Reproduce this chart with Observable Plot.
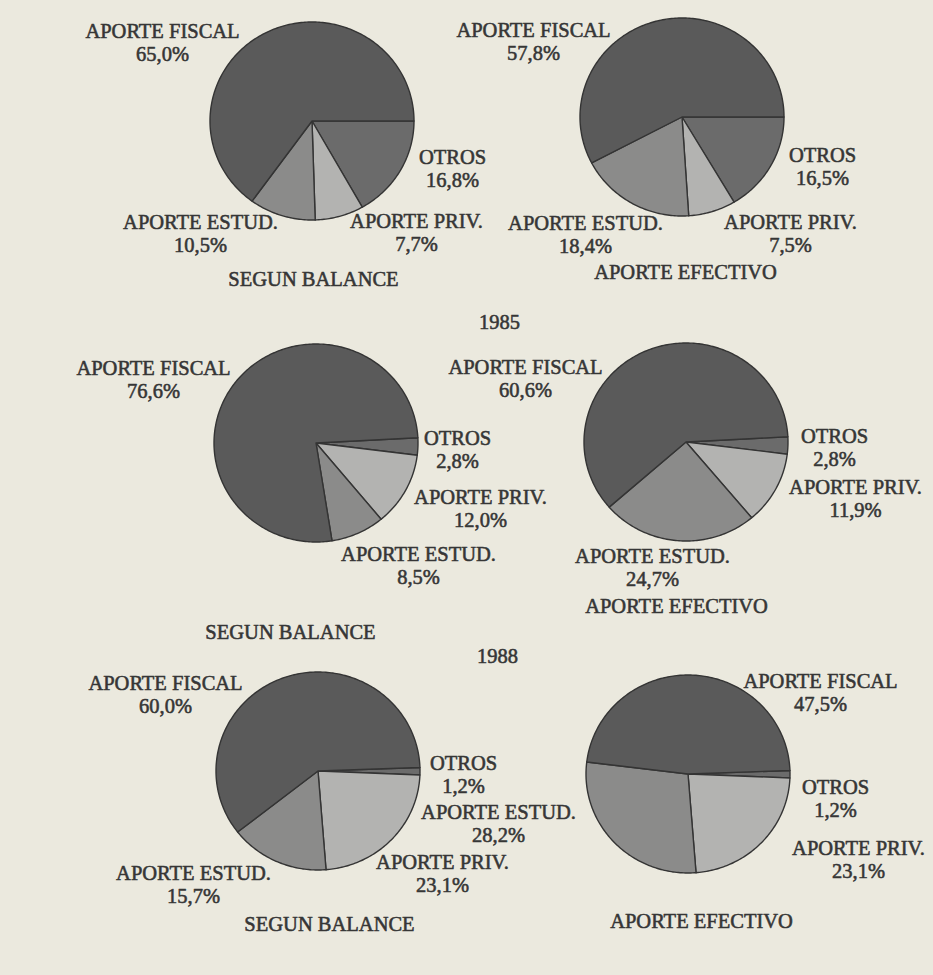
<!DOCTYPE html>
<html><head><meta charset="utf-8">
<script src="https://cdn.jsdelivr.net/npm/d3@7"></script>
<script src="https://cdn.jsdelivr.net/npm/@observablehq/plot@0.6"></script>
<style>html,body{margin:0;padding:0;background:#ebe9de;} #chart svg{display:block}</style>
</head><body><div id="chart"></div>
<script>
// ---- DATA ----
const categories = ["OTROS", "APORTE PRIV.", "APORTE ESTUD.", "APORTE FISCAL"];
const pieTitles = ["SEGUN BALANCE", "APORTE EFECTIVO", "SEGUN BALANCE", "APORTE EFECTIVO", "SEGUN BALANCE", "APORTE EFECTIVO"];
const yearLabels = ["1985", "1988"];
const balanceFirst   = [16.8, 7.7, 10.5, 65.0];
const efectivoFirst  = [16.5, 7.5, 18.4, 57.8];
const balance1985    = [2.8, 12.0, 8.5, 76.6];
const efectivo1985   = [2.8, 11.9, 24.7, 60.6];
const balance1988    = [1.2, 23.1, 15.7, 60.0];
const efectivo1988   = [1.2, 23.1, 28.2, 47.5];
const pieValues = [balanceFirst, efectivoFirst, balance1985, efectivo1985, balance1988, efectivo1988];

// ---- LAYOUT ----
const W = 933, H = 975;
const sliceColors = ["#6b6b6b", "#b3b3b1", "#8b8b8a", "#5a5a5a"];
const pieCenters = [[312,121],[682,117],[316,443],[686,442],[318,771],[688,774]];
const pieStartDeg = [0, 0, -3, -3, -2, -2];
const rx = 102, ry = 99;
// label anchors per pie, order of categories: [x, first-line y]
const labelPos = [
  [[452,157],[416,221],[200,222],[162,31]],
  [[822,155],[790,222],[585,223],[533,30]],
  [[457,438],[480,497],[418,554],[153,368]],
  [[834,436],[855,487],[652,556],[525,367]],
  [[463,763],[442,862],[193,873],[165,683]],
  [[835,787],[858,848],[498,812],[820,681]]
];
const titlePos = [[313,279],[685,272],[290,632],[676,606],[329,924],[701,921]];
const yearPos = [[499,322],[497,656]];
const lineGap = 23;

const fmtPct = v => d3.format(".1f")(v).replace(".", ",") + "%";

// slices
const sliceRows = [];
pieValues.forEach((vals, p) => {
  const [cx, cy] = pieCenters[p];
  const total = d3.sum(vals);
  let a = pieStartDeg[p] * Math.PI / 180;
  vals.forEach((v, i) => {
    const a1 = a + v / total * 2 * Math.PI;
    const n = Math.max(2, Math.ceil((a1 - a) / (Math.PI / 180)));
    for (let k = 0; k <= n; k++) {
      const t = a + (a1 - a) * k / n;
      sliceRows.push({id: p + "-" + i, cat: categories[i], x1: cx + rx * Math.cos(t), y1: cy + ry * Math.sin(t), x2: cx, y2: cy});
    }
    a = a1;
  });
});

const labelRows = [];
pieValues.forEach((vals, p) => vals.forEach((v, i) => {
  labelRows.push({cat: categories[i], value: v, x: labelPos[p][i][0], y: labelPos[p][i][1]});
}));
const titleRows = pieTitles.map((t, i) => ({text: t, x: titlePos[i][0], y: titlePos[i][1]}));
const yearRows = yearLabels.map((t, i) => ({text: t, x: yearPos[i][0], y: yearPos[i][1]}));

const font = {fontFamily: "Liberation Serif", fontSize: 20.5, fontWeight: "normal", fill: "#363636", stroke: "#363636", strokeWidth: 0.55};

const chart = Plot.plot({
  width: W, height: H, margin: 0,
  style: {background: "#ebe9de"},
  x: {domain: [0, W], range: [0, W], axis: null},
  y: {domain: [0, H], range: [0, H], axis: null},
  color: {domain: categories, range: sliceColors},
  marks: [
    Plot.area(sliceRows, {x1: "x1", y1: "y1", x2: "x2", y2: "y2", z: "id", fill: "cat", stroke: "#343434", strokeWidth: 1.4, strokeLinejoin: "round"}),
    Plot.text(labelRows, {x: "x", y: "y", text: "cat", ...font}),
    Plot.text(labelRows, {x: "x", y: d => d.y + lineGap, text: d => fmtPct(d.value), ...font}),
    Plot.text(titleRows, {x: "x", y: "y", text: "text", ...font}),
    Plot.text(yearRows, {x: "x", y: "y", text: "text", ...font})
  ]
});
document.getElementById("chart").appendChild(chart);
</script></body></html>
